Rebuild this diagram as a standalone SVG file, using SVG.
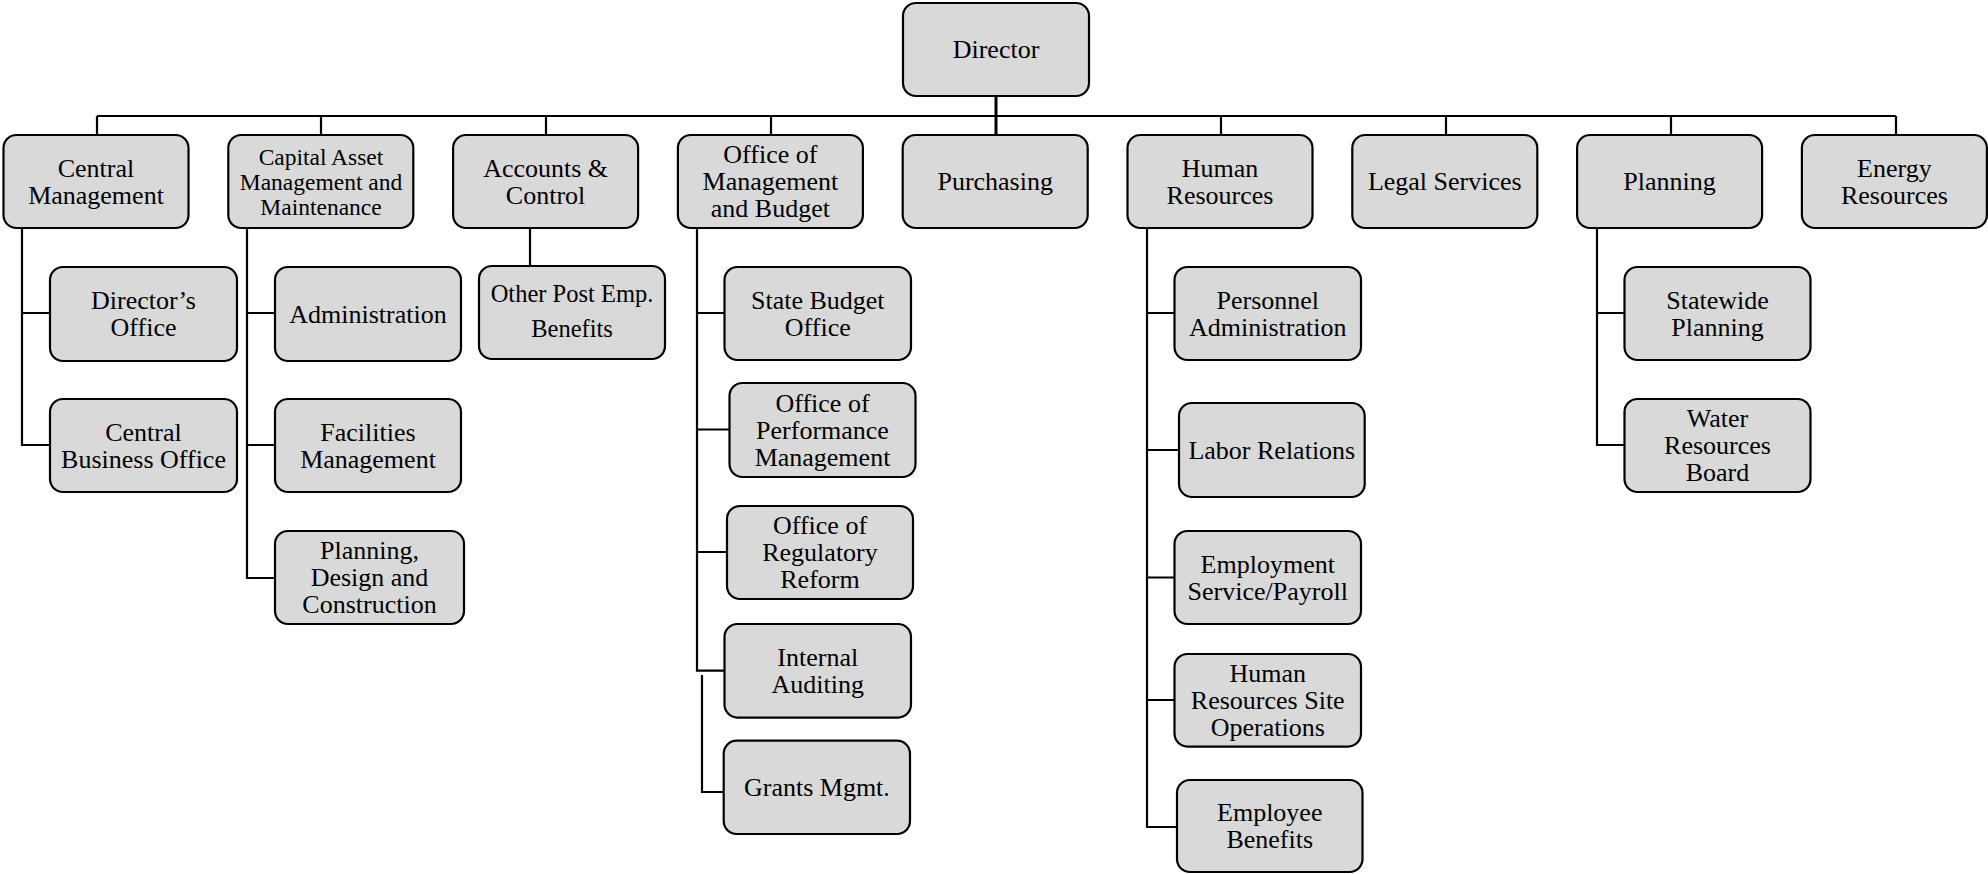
<svg xmlns="http://www.w3.org/2000/svg" width="1988" height="874" viewBox="0 0 1988 874">
<style>
.box{fill:#d9d9d9;stroke:#000;stroke-width:2.2}
.t{font-family:"Liberation Serif","Times New Roman",serif;font-size:26px;fill:#000;text-anchor:middle}
.s{font-size:23.5px}
.o{font-size:24.5px}
.c{fill:none;stroke:#000;stroke-width:2.2}
</style>
<rect width="1988" height="874" fill="#fff"/>
<g id="connectors" class="c">
<path d="M97 116H1896"/>
<path d="M996 96V135" stroke-width="3"/>
<path d="M97 116V135M321 116V135M546 116V135M771 116V135M1221 116V135M1446 116V135M1671 116V135M1896 116V135"/>
<path d="M22 228V445H50M22 313H50"/>
<path d="M247 228V578H275M247 313H275M247 445H275"/>
<path d="M530 228V266"/>
<path d="M697 228V670.6H724.5M697 313H724.5M697 429.5H729.5M697 552H727"/>
<path d="M702 675V792H723.7"/>
<path d="M1147 228V827H1177M1147 313H1174.5M1147 450H1179M1147 577.5H1174.5M1147 700H1174.5"/>
<path d="M1597 228V445H1624.5M1597 313H1624.5"/>
</g>
<g id="director"><rect class="box" x="903" y="3" width="186" height="93" rx="13"/><text class="t" x="996" y="58">Director</text></g>
<g id="central-management"><rect class="box" x="3.5" y="135" width="185" height="93" rx="13"/><text class="t" x="96" y="176.5">Central</text><text class="t" x="96" y="203.5">Management</text></g>
<g id="capital-asset"><rect class="box" x="228.3" y="135" width="185" height="93" rx="13"/><text class="t s" x="321" y="164.5">Capital Asset</text><text class="t s" x="321" y="190">Management and</text><text class="t s" x="321" y="215">Maintenance</text></g>
<g id="accounts-control"><rect class="box" x="453.1" y="135" width="185" height="93" rx="13"/><text class="t" x="545.6" y="176.5">Accounts &amp;</text><text class="t" x="545.6" y="203.5">Control</text></g>
<g id="omb"><rect class="box" x="677.9" y="135" width="185" height="93" rx="13"/><text class="t" x="770.4" y="163">Office of</text><text class="t" x="770.4" y="190">Management</text><text class="t" x="770.4" y="217">and Budget</text></g>
<g id="purchasing"><rect class="box" x="902.7" y="135" width="185" height="93" rx="13"/><text class="t" x="995.2" y="190">Purchasing</text></g>
<g id="human-resources"><rect class="box" x="1127.5" y="135" width="185" height="93" rx="13"/><text class="t" x="1220" y="176.5">Human</text><text class="t" x="1220" y="203.5">Resources</text></g>
<g id="legal-services"><rect class="box" x="1352.3" y="135" width="185" height="93" rx="13"/><text class="t" x="1444.8" y="190">Legal Services</text></g>
<g id="planning"><rect class="box" x="1577.1" y="135" width="185" height="93" rx="13"/><text class="t" x="1669.6" y="190">Planning</text></g>
<g id="energy-resources"><rect class="box" x="1801.9" y="135" width="185" height="93" rx="13"/><text class="t" x="1894.4" y="176.5">Energy</text><text class="t" x="1894.4" y="203.5">Resources</text></g>
<g id="directors-office"><rect class="box" x="50" y="267" width="187" height="94" rx="13"/><text class="t" x="143.5" y="309">Director’s</text><text class="t" x="143.5" y="336">Office</text></g>
<g id="central-business-office"><rect class="box" x="50" y="399" width="187" height="93" rx="13"/><text class="t" x="143.5" y="440.5">Central</text><text class="t" x="143.5" y="467.5">Business Office</text></g>
<g id="administration"><rect class="box" x="275" y="267" width="186" height="94" rx="13"/><text class="t" x="368" y="322.5">Administration</text></g>
<g id="facilities-management"><rect class="box" x="275" y="399" width="186" height="93" rx="13"/><text class="t" x="368" y="440.5">Facilities</text><text class="t" x="368" y="467.5">Management</text></g>
<g id="planning-design-construction"><rect class="box" x="275" y="531" width="189" height="93" rx="13"/><text class="t" x="369.5" y="559">Planning,</text><text class="t" x="369.5" y="586">Design and</text><text class="t" x="369.5" y="613">Construction</text></g>
<g id="other-post-emp-benefits"><rect class="box" x="479" y="266" width="186" height="93" rx="13"/><text class="t o" x="572" y="301.5">Other Post Emp.</text><text class="t o" x="572" y="336.5">Benefits</text></g>
<g id="state-budget-office"><rect class="box" x="724.5" y="267" width="186.5" height="93" rx="13"/><text class="t" x="817.75" y="308.5">State Budget</text><text class="t" x="817.75" y="335.5">Office</text></g>
<g id="performance-management"><rect class="box" x="729.5" y="383" width="186" height="94" rx="13"/><text class="t" x="822.5" y="411.5">Office of</text><text class="t" x="822.5" y="438.5">Performance</text><text class="t" x="822.5" y="465.5">Management</text></g>
<g id="regulatory-reform"><rect class="box" x="727" y="506" width="186" height="93" rx="13"/><text class="t" x="820" y="534">Office of</text><text class="t" x="820" y="561">Regulatory</text><text class="t" x="820" y="588">Reform</text></g>
<g id="internal-auditing"><rect class="box" x="724.5" y="624" width="186.5" height="93.6" rx="13"/><text class="t" x="817.75" y="665.8">Internal</text><text class="t" x="817.75" y="692.8">Auditing</text></g>
<g id="grants-mgmt"><rect class="box" x="723.7" y="740.6" width="186.3" height="93.4" rx="13"/><text class="t" x="816.9" y="795.8">Grants Mgmt.</text></g>
<g id="personnel-administration"><rect class="box" x="1174.5" y="267" width="186.5" height="93" rx="13"/><text class="t" x="1267.75" y="308.5">Personnel</text><text class="t" x="1267.75" y="335.5">Administration</text></g>
<g id="labor-relations"><rect class="box" x="1179" y="403" width="185.7" height="94" rx="13"/><text class="t" x="1271.85" y="458.5">Labor Relations</text></g>
<g id="employment-service-payroll"><rect class="box" x="1174.5" y="531" width="186.5" height="93" rx="13"/><text class="t" x="1267.75" y="572.5">Employment</text><text class="t" x="1267.75" y="599.5">Service/Payroll</text></g>
<g id="hr-site-operations"><rect class="box" x="1174.5" y="654" width="186.5" height="92.6" rx="13"/><text class="t" x="1267.75" y="681.8">Human</text><text class="t" x="1267.75" y="708.8">Resources Site</text><text class="t" x="1267.75" y="735.8">Operations</text></g>
<g id="employee-benefits"><rect class="box" x="1177" y="780" width="185.5" height="92" rx="13"/><text class="t" x="1269.75" y="821">Employee</text><text class="t" x="1269.75" y="848">Benefits</text></g>
<g id="statewide-planning"><rect class="box" x="1624.5" y="267" width="186" height="93" rx="13"/><text class="t" x="1717.5" y="308.5">Statewide</text><text class="t" x="1717.5" y="335.5">Planning</text></g>
<g id="water-resources-board"><rect class="box" x="1624.5" y="399" width="186" height="93" rx="13"/><text class="t" x="1717.5" y="427">Water</text><text class="t" x="1717.5" y="454">Resources</text><text class="t" x="1717.5" y="481">Board</text></g>
</svg>
